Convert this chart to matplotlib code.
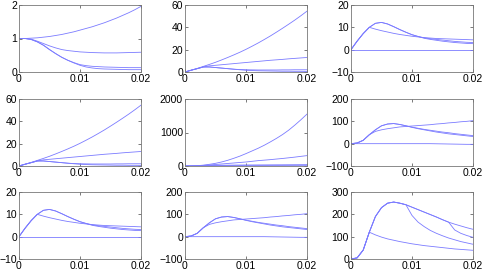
import numpy as np
import matplotlib
matplotlib.use("Agg")
import matplotlib.pyplot as plt

plt.rcParams["font.family"] = ["Liberation Sans", "DejaVu Sans"]
plt.rcParams["font.size"] = 7.5

# common time grid (s)
t = [0.000, 0.001, 0.002, 0.003, 0.004, 0.005, 0.006, 0.007, 0.008, 0.009, 0.010,
     0.011, 0.012, 0.013, 0.014, 0.015, 0.016, 0.017, 0.018, 0.019, 0.020]

# panel (1,1)
p11 = [
    [1.00, 1.00, 1.01, 1.02, 1.04, 1.06, 1.09, 1.12, 1.16, 1.20, 1.25, 1.30, 1.35, 1.41, 1.47, 1.54, 1.61, 1.69, 1.77, 1.86, 1.96],
    [1.00, 1.00, 0.98, 0.92, 0.85, 0.78, 0.72, 0.67, 0.64, 0.62, 0.60, 0.59, 0.58, 0.575, 0.57, 0.57, 0.57, 0.575, 0.58, 0.585, 0.59],
    [1.00, 1.00, 0.97, 0.90, 0.80, 0.67, 0.55, 0.44, 0.35, 0.28, 0.22, 0.19, 0.17, 0.16, 0.15, 0.145, 0.14, 0.135, 0.13, 0.13, 0.13],
    [1.00, 1.00, 0.97, 0.90, 0.80, 0.67, 0.55, 0.44, 0.35, 0.27, 0.20, 0.15, 0.12, 0.10, 0.09, 0.085, 0.08, 0.075, 0.07, 0.07, 0.07],
]
# panel (1,2) == panel (2,1)
p12 = [
    [0.0, 1.6, 3.2, 5.0, 6.8, 8.7, 10.8, 13.0, 15.3, 17.7, 20.3, 23.1, 26.0, 29.1, 32.3, 35.7, 39.2, 42.8, 46.5, 50.4, 54.5],
    [0.0, 1.6, 3.0, 4.5, 5.5, 6.0, 6.5, 7.0, 7.5, 8.0, 8.5, 9.0, 9.5, 10.0, 10.5, 10.9, 11.3, 11.8, 12.2, 12.6, 13.0],
    [0.0, 1.6, 3.0, 4.5, 4.5, 4.0, 3.5, 3.0, 2.5, 2.2, 2.0, 1.9, 1.8, 1.8, 1.8, 1.8, 1.9, 1.9, 2.0, 2.0, 2.0],
    [0.0, 1.6, 3.0, 4.5, 4.5, 4.0, 3.5, 3.0, 2.5, 2.0, 1.6, 1.3, 1.1, 1.0, 0.9, 0.8, 0.7, 0.7, 0.6, 0.6, 0.5],
]
# panel (1,3) == panel (3,1)
p13 = [
    [0.0, 3.8, 7.2, 10.0, 11.8, 12.2, 11.5, 10.3, 9.0, 7.8, 6.7, 5.9, 5.3, 4.9, 4.6, 4.3, 4.0, 3.7, 3.5, 3.3, 3.2],
    [0.0, 3.8, 7.2, 10.0, 9.2, 8.5, 7.9, 7.3, 6.8, 6.4, 6.0, 5.7, 5.4, 5.2, 5.0, 4.9, 4.8, 4.7, 4.6, 4.5, 4.4],
    [0.0, 3.8, 7.2, 10.0, 11.8, 12.2, 11.5, 10.3, 9.0, 7.8, 6.7, 5.9, 5.1, 4.6, 4.2, 3.8, 3.5, 3.2, 3.0, 2.8, 2.7],
    [0.0] * 21,
]
# panel (2,2)
p22 = [
    [0, 3, 10, 25, 50, 80, 120, 170, 230, 295, 370, 450, 530, 620, 720, 825, 940, 1070, 1220, 1380, 1550],
    [0, 2, 8, 18, 30, 45, 60, 75, 90, 105, 120, 140, 160, 175, 190, 208, 225, 245, 265, 288, 310],
    [0, 2, 6, 12, 16, 20, 22, 24, 26, 28, 30, 31, 32, 33, 34, 35, 36, 37, 38, 39, 40],
    [0, 2, 6, 12, 14, 15, 15, 15, 15, 16, 16, 16, 17, 17, 18, 18, 18, 19, 19, 20, 20],
]
# panel (2,3) == panel (3,2)
p23 = [
    [0, 3, 15, 40, 62, 80, 88, 90, 86, 80, 74, 69, 64, 60, 56, 52, 49, 45, 42, 39, 36],
    [0, 3, 15, 40, 55, 62, 67, 71, 75, 77, 79, 81, 83, 85, 88, 90, 93, 95, 98, 100, 103],
    [0, 3, 15, 40, 62, 80, 88, 90, 86, 80, 73, 67, 62, 57, 52, 48, 44, 41, 38, 35, 32],
    [0, 0, 0, 0, 0, 0, 0, 0, 0, 0, 0, 0, 0, 0, -0.5, -1, -1.5, -2, -2.5, -3, -3],
]
# panel (3,3)
p33 = [
    [0, 5, 40, 120, 190, 230, 250, 255, 250, 243, 232, 221, 210, 199, 188, 176, 165, 156, 148, 140, 133],
    [0, 5, 40, 120, 190, 230, 250, 255, 250, 243, 195, 165, 145, 128, 115, 104, 94, 86, 78, 72, 66],
    [0, 5, 40, 120, 108, 98, 90, 84, 78, 73, 68, 64, 60, 57, 54, 51, 48, 45, 43, 41, 39],
    [0, 5, 40, 120, 190, 230, 250, 255, 250, 243, 232, 221, 210, 199, 188, 176, 165, 130, 115, 105, 97],
    [0] * 21,
]

panels = [p11, p12, p13, p12, p22, p23, p13, p23, p33]
ylims = [(0, 2), (0, 60), (-10, 20), (0, 60), (0, 2000), (-100, 200), (-10, 20), (-100, 200), (0, 300)]
yticks = [[0, 1, 2], [0, 20, 40, 60], [-10, 0, 10, 20], [0, 20, 40, 60], [0, 1000, 2000],
          [-100, 0, 100, 200], [-10, 0, 10, 20], [-100, 0, 100, 200], [0, 100, 200, 300]]
xticks = [0, 0.01, 0.02]
xticklabels = ["0", "0.01", "0.02"]

W, H = 485, 272
fig = plt.figure(figsize=(W / 100, H / 100), dpi=100)
lefts = [19, 185, 351]
tops = [5, 99, 192]
aw, ah = 122, 67

for i, data in enumerate(panels):
    r, c = divmod(i, 3)
    ax = fig.add_axes([lefts[c] / W, 1 - (tops[r] + ah) / H, aw / W, ah / H])
    for y in data:
        ax.plot(t, y, color="#7b7bff", lw=0.6)
    ax.set_xlim(0, 0.02)
    ax.set_ylim(*ylims[i])
    ax.set_xticks(xticks)
    ax.set_xticklabels(xticklabels)
    ax.set_yticks(yticks[i])
    ax.tick_params(direction="in", length=2, width=0.5, pad=1.5,
                   top=True, right=True, colors="#444444", labelcolor="black")
    for s in ax.spines.values():
        s.set_linewidth(0.6)
        s.set_color("#777777")

fig.savefig("out.png", dpi=100)
